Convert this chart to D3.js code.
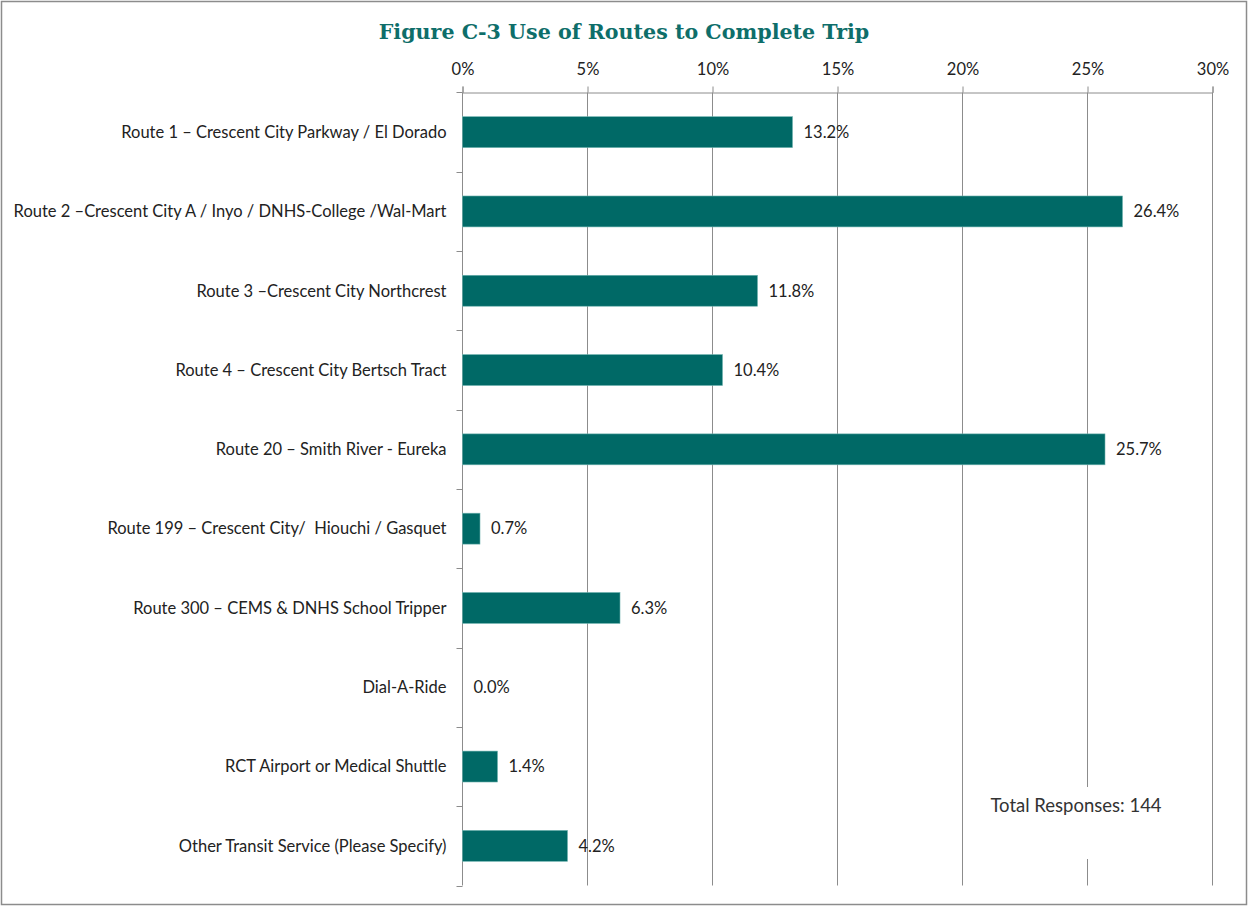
<!DOCTYPE html>
<html>
<head>
<meta charset="utf-8">
<script src="https://cdn.jsdelivr.net/npm/d3@7"></script>
<style>
  html, body { margin: 0; padding: 0; background: #fff; }
  svg { display: block; }
</style>
</head>
<body>
<svg id="chart" width="1249" height="907"></svg>
<script>
// Survey responses: share of riders using each route to complete their trip
const categories = [
  "Route 1 \u2013 Crescent City Parkway / El Dorado",
  "Route 2 \u2013Crescent City A / Inyo / DNHS-College /Wal-Mart",
  "Route 3 \u2013Crescent City Northcrest",
  "Route 4 \u2013 Crescent City Bertsch Tract",
  "Route 20 \u2013 Smith River - Eureka",
  "Route 199 \u2013 Crescent City/  Hiouchi / Gasquet",
  "Route 300 \u2013 CEMS & DNHS School Tripper",
  "Dial-A-Ride",
  "RCT Airport or Medical Shuttle",
  "Other Transit Service (Please Specify)"
];
const shares = [13.2, 26.4, 11.8, 10.4, 25.7, 0.7, 6.3, 0.0, 1.4, 4.2];
const tickValues = [0, 5, 10, 15, 20, 25, 30];
const titleText = "Figure C-3 Use of Routes to Complete Trip";
const noteText = "Total Responses: 144";

const teal = "#006966";
const gridGray = "#8c8c8c";
const bodyFont = "Lato, 'Open Sans', sans-serif";

const svg = d3.select("#chart");

// outer frame
svg.append("rect")
  .attr("x", 1.5).attr("y", 1.5)
  .attr("width", 1245).attr("height", 903)
  .attr("fill", "#fff")
  .attr("stroke", "#8c8c8c")
  .attr("stroke-width", 1.5);

const plot = { left: 462.5, right: 1212.5, top: 92.5, bottom: 885.5 };

const x = d3.scaleLinear().domain([0, 30]).range([plot.left, plot.right]);
const y = d3.scaleBand().domain(categories).range([plot.top, plot.bottom])
  .paddingInner(0.61).paddingOuter(0.305);

// title
svg.append("text")
  .attr("x", 624).attr("y", 39)
  .attr("text-anchor", "middle")
  .attr("font-family", "'DejaVu Serif', serif")
  .attr("font-weight", "bold")
  .attr("font-size", 20.6)
  .attr("fill", "#0e6e6a")
  .text(titleText);

// vertical gridlines
svg.append("g")
  .selectAll("line")
  .data(tickValues.slice(1))
  .join("line")
  .attr("x1", d => x(d)).attr("x2", d => x(d))
  .attr("y1", plot.top).attr("y2", plot.bottom)
  .attr("stroke", gridGray).attr("stroke-width", 1);

// top axis
const xAxis = d3.axisTop(x)
  .tickValues(tickValues)
  .tickFormat(d => d + "%")
  .tickSizeInner(6).tickSizeOuter(6)
  .tickPadding(12);
const gx = svg.append("g")
  .attr("transform", `translate(0,${plot.top})`)
  .call(xAxis);
gx.select(".domain").attr("stroke", gridGray);
gx.selectAll(".tick line").attr("stroke", gridGray);
gx.selectAll(".tick text")
  .attr("font-family", bodyFont)
  .attr("font-size", 16.5)
  .attr("fill", "#222");

// left axis: line with ticks at category boundaries
const boundaries = categories.map(c => y(c) - y.step() * y.paddingInner() / 2);
boundaries.push(plot.bottom);
const gy = svg.append("g");
gy.append("line")
  .attr("x1", plot.left).attr("x2", plot.left)
  .attr("y1", plot.top).attr("y2", plot.bottom)
  .attr("stroke", gridGray);
gy.selectAll("line.tick")
  .data(boundaries)
  .join("line")
  .attr("class", "tick")
  .attr("x1", plot.left - 6).attr("x2", plot.left)
  .attr("y1", d => Math.round(d) + 0.5).attr("y2", d => Math.round(d) + 0.5)
  .attr("stroke", gridGray);

// category labels
svg.append("g")
  .selectAll("text")
  .data(categories)
  .join("text")
  .attr("x", plot.left - 16)
  .attr("y", d => y(d) + y.bandwidth() / 2)
  .attr("dy", "0.35em")
  .attr("text-anchor", "end")
  .attr("font-family", bodyFont)
  .attr("font-size", 16.5)
  .attr("fill", "#222")
  .style("white-space", "pre")
  .text(d => d);

// note box (white background interrupts gridline)
svg.append("rect")
  .attr("x", 978).attr("y", 787)
  .attr("width", 196).attr("height", 72)
  .attr("fill", "#fff");
svg.append("text")
  .attr("x", 1076).attr("y", 806)
  .attr("dy", "0.35em")
  .attr("text-anchor", "middle")
  .attr("font-family", bodyFont)
  .attr("font-size", 18.5)
  .attr("fill", "#333")
  .text(noteText);

// bars
svg.append("g")
  .selectAll("rect")
  .data(categories)
  .join("rect")
  .attr("x", x(0))
  .attr("y", d => y(d))
  .attr("width", (d, i) => x(shares[i]) - x(0))
  .attr("height", y.bandwidth())
  .attr("fill", teal)
  .attr("stroke", (d, i) => shares[i] > 0 ? "#6fb3b0" : "none")
  .attr("stroke-width", 0.6);

// value labels
svg.append("g")
  .selectAll("text")
  .data(categories)
  .join("text")
  .attr("x", (d, i) => x(shares[i]) + 11)
  .attr("y", d => y(d) + y.bandwidth() / 2)
  .attr("dy", "0.35em")
  .attr("font-family", bodyFont)
  .attr("font-size", 16.5)
  .attr("fill", "#222")
  .text((d, i) => shares[i].toFixed(1) + "%");
</script>
</body>
</html>
